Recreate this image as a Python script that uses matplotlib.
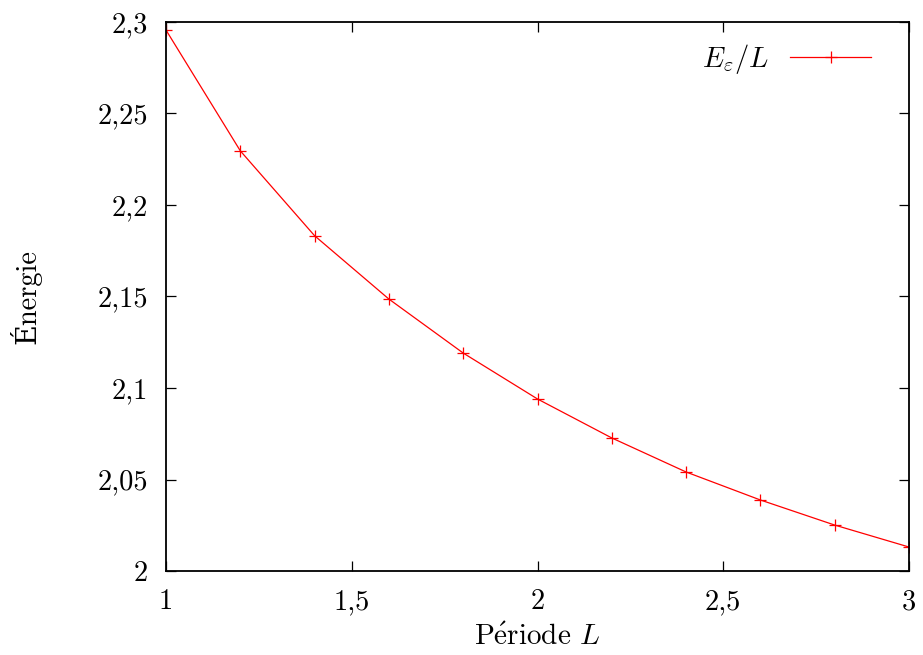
import matplotlib
matplotlib.use("Agg")
import matplotlib.pyplot as plt

periode = [1.0, 1.2, 1.4, 1.6, 1.8, 2.0, 2.2, 2.4, 2.6, 2.8, 3.0]
energie = [2.2956, 2.2296, 2.1832, 2.1486, 2.1191, 2.0940, 2.0727, 2.0541, 2.0388, 2.0251, 2.0131]

xticks = [1.0, 1.5, 2.0, 2.5, 3.0]
xticklabels = ["1", "1,5", "2", "2,5", "3"]
yticks = [2.0, 2.05, 2.1, 2.15, 2.2, 2.25, 2.3]
yticklabels = ["2", "2,05", "2,1", "2,15", "2,2", "2,25", "2,3"]

plt.rcParams['font.family'] = ['cmr10', 'DejaVu Serif']
plt.rcParams['mathtext.fontset'] = 'cm'
plt.rcParams['font.size'] = 20.5

fig = plt.figure(figsize=(9.23, 6.55), dpi=100)
ax = fig.add_axes([166/923, 1-571/655, (909-166)/923, (571-22)/655])

ax.plot(periode, energie, color='red', lw=0.9, marker='+', markersize=8,
        markeredgewidth=0.9, label=r'$E_\varepsilon/L$')

ax.set_xlim(1, 3)
ax.set_ylim(2.0, 2.3)
ax.set_xticks(xticks)
ax.set_xticklabels(xticklabels)
ax.set_yticks(yticks)
ax.set_yticklabels(yticklabels)
ax.tick_params(direction='in', top=True, right=True, length=7, width=0.9,
               labelsize=20.5, pad=13)
for s in ax.spines.values():
    s.set_linewidth(1.3)

ax.set_xlabel(r'P$\acute{\mathrm{e}}$riode $L$', fontsize=21, labelpad=6)
ax.set_ylabel('Énergie', fontsize=20.5, labelpad=40)

leg = ax.legend(loc='upper right', frameon=False, markerfirst=False,
                fontsize=20.5, handlelength=2.85, handletextpad=0.75,
                borderaxespad=0.3, bbox_to_anchor=(0.976, 1.0))

fig.savefig('out.png', dpi=100)
